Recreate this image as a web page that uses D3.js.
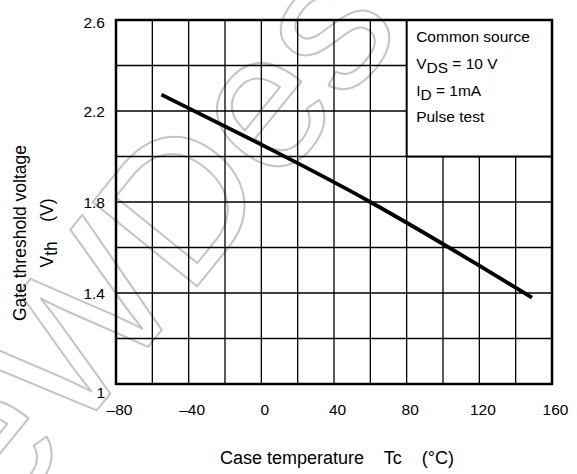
<!DOCTYPE html>
<html>
<head>
<meta charset="utf-8">
<script src="https://cdn.jsdelivr.net/npm/d3@7"></script>
<style>
  body { margin: 0; background: #fff; }
  svg { display: block; font-family: "Liberation Sans", Arial, sans-serif; }
</style>
</head>
<body>
<svg id="chart" width="577" height="474"></svg>
<script>
// Axis ticks and grid divisions
const tempTicks = [-80, -40, 0, 40, 80, 120, 160];
const tempTickLabels = ["\u201380", "\u201340", "0", "40", "80", "120", "160"];
const vthTicks = [1, 1.4, 1.8, 2.2, 2.6];
const vthTickLabels = ["1", "1.4", "1.8", "2.2", "2.6"];
const tempGrid = [-60, -40, -20, 0, 20, 40, 60, 80, 100, 120, 140];
const vthGrid = [1.2, 1.4, 1.6, 1.8, 2.0, 2.2, 2.4];

// Measured curve: case temperature (°C) vs gate threshold voltage (V)
const caseTemp = [-55, 0, 60, 120, 149];
const vthValues = [2.272, 2.052, 1.80, 1.52, 1.38];

// Test conditions box (spans Tc 80..160, Vth 2.0..2.6)
const condBoxTemp = [80, 160];
const condBoxVth = [2.0, 2.6];

const svg = d3.select("#chart");
const plot = { left: 116, right: 552, top: 20, bottom: 384 };

const x = d3.scaleLinear().domain([-80, 160]).range([plot.left, plot.right]);
const y = d3.scaleLinear().domain([1, 2.6]).range([plot.bottom, plot.top]);

// Background watermark lettering
const wm = svg.append("g")
  .attr("transform", "translate(3,526) rotate(-51)");
wm.append("text")
  .attr("x", 0).attr("y", 0)
  .attr("font-size", 195)
  .attr("fill", "none")
  .attr("stroke", "#c4c4c4")
  .attr("stroke-width", 2)
  .attr("stroke-linejoin", "round")
  .text("eWDes");

// Grid
const grid = svg.append("g");
grid.selectAll("line.v").data(tempGrid).join("line")
  .attr("class", "v")
  .attr("x1", d => x(d)).attr("x2", d => x(d))
  .attr("y1", y(1)).attr("y2", y(2.6))
  .attr("stroke", "#000").attr("stroke-width", 1.3);
grid.selectAll("line.h").data(vthGrid).join("line")
  .attr("class", "h")
  .attr("x1", x(-80)).attr("x2", x(160))
  .attr("y1", d => y(d)).attr("y2", d => y(d))
  .attr("stroke", "#000").attr("stroke-width", 1.3);

// Conditions box
const cx0 = x(condBoxTemp[0]), cx1 = x(condBoxTemp[1]);
const cy0 = y(condBoxVth[1]), cy1 = y(condBoxVth[0]);
svg.append("rect")
  .attr("x", cx0).attr("y", cy0)
  .attr("width", cx1 - cx0).attr("height", cy1 - cy0)
  .attr("fill", "#fff").attr("stroke", "#000").attr("stroke-width", 2);

const cond = svg.append("g").attr("font-size", 15.5).attr("fill", "#000");
const tx = cx0 + 9.5;
cond.append("text").attr("x", tx).attr("y", 42).text("Common source");
const l2 = cond.append("text").attr("x", tx).attr("y", 69);
l2.append("tspan").text("V");
l2.append("tspan").attr("dy", 3.5).text("DS");
l2.append("tspan").attr("dy", -3.5).text(" = 10 V");
const l3 = cond.append("text").attr("x", tx).attr("y", 96);
l3.append("tspan").text("I");
l3.append("tspan").attr("dy", 3.5).text("D");
l3.append("tspan").attr("dy", -3.5).text(" = 1mA");
cond.append("text").attr("x", tx).attr("y", 122).text("Pulse test");

// Plot frame
svg.append("rect")
  .attr("x", plot.left).attr("y", plot.top)
  .attr("width", plot.right - plot.left).attr("height", plot.bottom - plot.top)
  .attr("fill", "none").attr("stroke", "#000").attr("stroke-width", 2.5);

// Curve
const line = d3.line()
  .x((d, i) => x(caseTemp[i]))
  .y(d => y(d))
  .curve(d3.curveNatural);
svg.append("path")
  .attr("d", line(vthValues))
  .attr("fill", "none").attr("stroke", "#000")
  .attr("stroke-width", 3.8);

// Axes (labels only)
const xAxis = d3.axisBottom(x).tickValues(tempTicks)
  .tickFormat((d, i) => tempTickLabels[i]).tickSize(0).tickPadding(0);
const gx = svg.append("g").attr("transform", `translate(3,${plot.bottom})`).call(xAxis);
gx.select(".domain").remove();
gx.selectAll("text").attr("font-size", 15.5).attr("font-family", null)
  .attr("fill", "#000").attr("dy", null).attr("y", 31);

const yAxis = d3.axisLeft(y).tickValues(vthTicks)
  .tickFormat((d, i) => vthTickLabels[i]).tickSize(0).tickPadding(11);
const gy = svg.append("g").attr("transform", `translate(${plot.left},0)`).call(yAxis);
gy.select(".domain").remove();
gy.selectAll("text").attr("font-size", 15.5).attr("font-family", null)
  .attr("fill", "#000")
  .attr("dy", d => d === 1 ? "0.9em" : d === 2.6 ? "0.5em" : "0.33em");

// Axis titles
svg.append("text")
  .attr("x", 337).attr("y", 464)
  .attr("text-anchor", "middle").attr("font-size", 18)
  .style("white-space", "pre")
  .text("Case temperature    Tc    (\u00B0C)");

const yt = svg.append("g").attr("transform", "translate(0,233) rotate(-90)");
yt.append("text")
  .attr("x", 0).attr("y", 26)
  .attr("text-anchor", "middle").attr("font-size", 17.5)
  .text("Gate threshold voltage");
const yt2 = yt.append("text")
  .attr("x", 0).attr("y", 53)
  .attr("text-anchor", "middle").attr("font-size", 17.5)
  .style("white-space", "pre");
yt2.append("tspan").text("V");
yt2.append("tspan").attr("dy", 3.5).text("th");
yt2.append("tspan").attr("dy", -3.5).text("    (V)");
</script>
</body>
</html>
